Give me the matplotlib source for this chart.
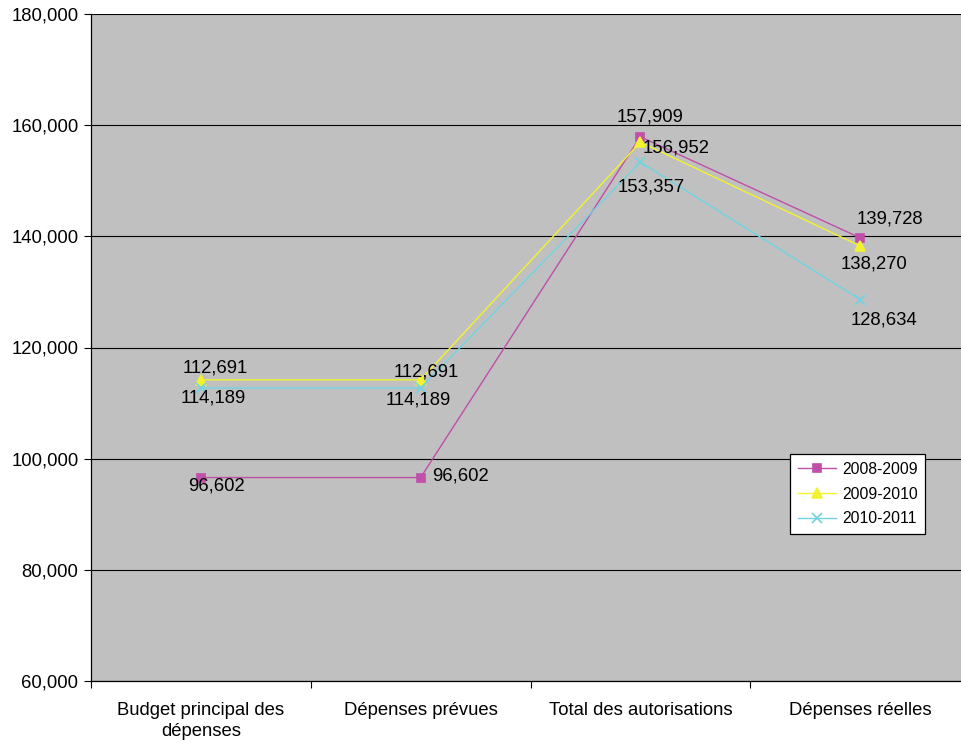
import matplotlib
matplotlib.use("Agg")
import matplotlib.pyplot as plt
from matplotlib.ticker import FuncFormatter, MultipleLocator

categories = ["Budget principal des\ndépenses", "Dépenses prévues",
              "Total des autorisations", "Dépenses réelles"]
series_names = ["2008-2009", "2009-2010", "2010-2011"]
values_0809 = [96602, 96602, 157909, 139728]
values_0910 = [114189, 114189, 156952, 138270]
values_1011 = [112691, 112691, 153357, 128634]

colors = ["#BF4FA8", "#F2F230", "#70D4E2"]
markers = ["s", "^", "x"]
marker_sizes = [6, 7, 7]
# label offsets in pixels from each marker, per series
label_offsets = [
    [(16, -8), (40, 2), (10, 20), (30, 19)],
    [(12, -18), (-2, -20), (36, -6), (14, -18)],
    [(14, 20), (6, 16), (11, -25), (24, -20)],
]

plt.rcParams["font.family"] = ["Liberation Sans", "DejaVu Sans"]
FS = 13.3

fig = plt.figure(figsize=(9.61, 7.45), dpi=100)
ax = fig.add_axes([91 / 961, 64 / 745, 879 / 961, 667 / 745])
ax.set_facecolor("#C0C0C0")

x = list(range(len(categories)))
for vals, name, c, m, ms, offs in zip(
        [values_0809, values_0910, values_1011], series_names, colors,
        markers, marker_sizes, label_offsets):
    ax.plot(x, vals, color=c, lw=1.0, marker=m, ms=ms, mew=1.2,
            label=name, zorder=3)
    for xi, v, (dx, dy) in zip(x, vals, offs):
        ax.annotate(f"{v:,}", (xi, v), xytext=(dx, dy),
                    textcoords="offset pixels", ha="center", va="center",
                    fontsize=FS, color="black", zorder=4)

ax.set_xlim(-0.5, len(categories) - 0.5)
ax.set_ylim(60000, 180000)
ax.yaxis.set_major_locator(MultipleLocator(20000))
ax.yaxis.set_major_formatter(FuncFormatter(lambda v, _: f"{int(v):,}"))
ax.grid(axis="y", color="black", lw=0.8, zorder=1)
ax.set_axisbelow(True)

ax.set_xticks(x)
ax.set_xticklabels(categories, fontsize=FS, linespacing=1.3)
ax.set_xticks([i - 0.5 for i in range(len(categories) + 1)], minor=True)
ax.tick_params(axis="x", which="major", length=0, pad=15)
ax.tick_params(axis="x", which="minor", length=5, width=0.8)
ax.tick_params(axis="y", length=5, width=0.8, labelsize=FS, pad=4)

for side in ("top", "right"):
    ax.spines[side].set_visible(False)
for side in ("left", "bottom"):
    ax.spines[side].set_color("black")
    ax.spines[side].set_linewidth(0.9)

leg = ax.legend(loc="upper left", bbox_to_anchor=(790 / 961, 1 - 454 / 745),
                bbox_transform=fig.transFigure, fontsize=11.3, frameon=True,
                fancybox=False, edgecolor="black", framealpha=1,
                borderaxespad=0, handlelength=2.4, handletextpad=0.4,
                borderpad=0.5, labelspacing=0.62)
leg.get_frame().set_linewidth(0.9)

fig.savefig("out.png", dpi=100)
